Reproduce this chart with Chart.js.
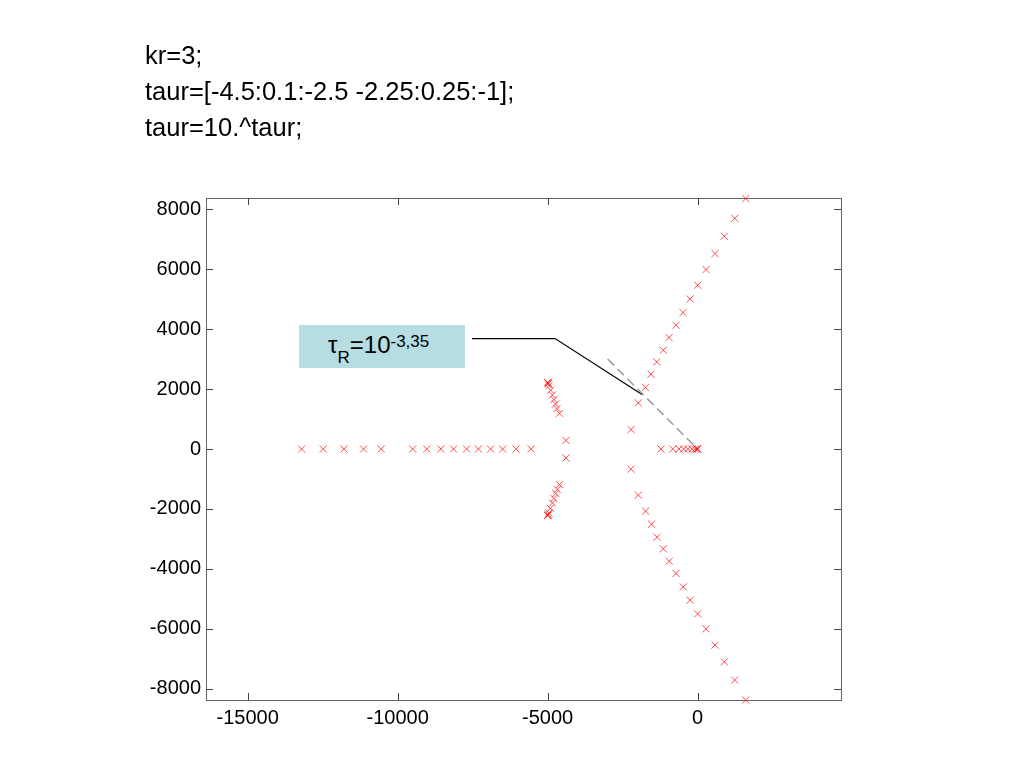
<!DOCTYPE html>
<html>
<head>
<meta charset="utf-8">
<script src="https://cdn.jsdelivr.net/npm/chart.js@4/dist/chart.umd.min.js"></script>
<style>
  body { margin: 0; background: #fff; width: 1024px; height: 768px; position: relative; overflow: hidden;
         font-family: "Liberation Sans", Arial, Helvetica, sans-serif; }
  canvas { position: absolute; left: 0; top: 0; }
  #code { position: absolute; left: 145px; top: 37px; font-size: 25.5px; line-height: 36px; color: #000; }
  #tag { position: absolute; left: 299px; top: 325px; width: 166px; height: 43px; background: #b6dde1; }
  #tagtext { position: absolute; left: 328px; top: 333px; font-size: 24px; line-height: 24px; color: #000; white-space: nowrap; }
  #tagtext .lo { font-size: 17px; position: relative; top: 10px; }
  #tagtext .hi { font-size: 17px; position: relative; top: -6px; }
</style>
</head>
<body>
<canvas id="locus" width="1024" height="768"></canvas>
<div id="code">kr=3;<br>taur=[-4.5:0.1:-2.5 -2.25:0.25:-1];<br>taur=10.^taur;</div>
<div id="tag"></div>
<div id="tagtext">τ<span class="lo">R</span>=10<span class="hi">-3,35</span></div>
<script>
// axes
const xTicks = [-15000, -10000, -5000, 0];
const yTicks = [-8000, -6000, -4000, -2000, 0, 2000, 4000, 6000, 8000];

// poles, one array per branch
const realLeft = [[-13200, 0], [-12480, 0], [-11790, 0], [-11140, 0], [-10550, 0], [-9500, 0], [-9030, 0],
  [-8560, 0], [-8140, 0], [-7700, 0], [-7310, 0], [-6900, 0], [-6500, 0], [-6050, 0], [-5550, 0]];
const realNearZero = [[-1220, 0], [-830, 0], [-620, 0], [-465, 0], [-330, 0], [-190, 0], [-80, 0],
  [-25, 0], [-10, 0], [0, 0]];
const midUpper = [[-4390, 285], [-4605, 1190], [-4690, 1350], [-4740, 1500], [-4790, 1650], [-4840, 1800],
  [-4900, 1960], [-4950, 2120], [-4975, 2180], [-4990, 2205], [-5000, 2220]];
const midLower = [[-4390, -300], [-4605, -1185], [-4680, -1350], [-4730, -1485], [-4790, -1650], [-4840, -1800],
  [-4910, -1980], [-4955, -2130], [-4980, -2185], [-4995, -2205], [-5000, -2220]];
const rightUpper = [[-2220, 650], [-1977, 1537], [-1743, 2050], [-1553, 2493], [-1363, 2903], [-1143, 3293],
  [-953, 3717], [-720, 4127], [-487, 4550], [-253, 5003], [3, 5460], [280, 5983], [580, 6517], [890, 7093],
  [1237, 7693], [1603, 8350]];
const rightLower = [[-2220, -673], [-1977, -1540], [-1735, -2073], [-1535, -2507], [-1355, -2940], [-1143, -3330],
  [-945, -3740], [-720, -4150], [-480, -4597], [-253, -5040], [3, -5497], [280, -5997], [580, -6540], [890, -7097],
  [1237, -7707], [1603, -8370]];

// annotation lines (data coords)
const dampLine = [[-3000, 3000], [0, 0]];
const calloutLine = [[-7520, 3683], [-4753, 3683], [-1853, 1817]];

const FONT = '"Liberation Sans", Arial, Helvetica, sans-serif';

const toPts = arr => arr.map(p => ({ x: p[0], y: p[1] }));

const poleSet = (label, arr) => ({
  label,
  data: toPts(arr),
  pointStyle: 'crossRot',
  pointRadius: 5,
  pointBorderWidth: 1,
  pointBorderColor: 'rgba(255,0,0,0.7)',
  pointBackgroundColor: 'rgba(255,0,0,0.7)',
  showLine: false,
  clip: false
});

// MATLAB-ish box with inward ticks on every side
const frame = {
  id: 'frame',
  afterDraw(chart) {
    const { ctx, chartArea: a, scales: { x, y } } = chart;
    ctx.save();
    ctx.strokeStyle = '#666';
    ctx.lineWidth = 1;
    ctx.strokeRect(a.left + 0.5, a.top + 0.5, a.right - a.left, a.bottom - a.top);
    ctx.strokeStyle = '#444';
    ctx.beginPath();
    xTicks.forEach(v => {
      const px = Math.round(x.getPixelForValue(v)) + 0.5;
      ctx.moveTo(px, a.bottom); ctx.lineTo(px, a.bottom - 7);
      ctx.moveTo(px, a.top); ctx.lineTo(px, a.top + 7);
    });
    yTicks.forEach(v => {
      const py = Math.round(y.getPixelForValue(v)) + 0.5;
      ctx.moveTo(a.left, py); ctx.lineTo(a.left + 7, py);
      ctx.moveTo(a.right, py); ctx.lineTo(a.right - 7, py);
    });
    ctx.stroke();
    ctx.restore();
  }
};

new Chart(document.getElementById('locus'), {
  type: 'scatter',
  data: {
    datasets: [
      poleSet('real left', realLeft),
      poleSet('real near zero', realNearZero),
      poleSet('mid upper', midUpper),
      poleSet('mid lower', midLower),
      poleSet('right upper', rightUpper),
      poleSet('right lower', rightLower),
      {
        label: 'damping',
        data: toPts(dampLine),
        showLine: true,
        borderColor: '#999',
        borderWidth: 1.5,
        borderDash: [9, 5],
        pointRadius: 0,
        clip: false
      },
      {
        label: 'callout',
        data: toPts(calloutLine),
        showLine: true,
        borderColor: '#000',
        borderWidth: 1.2,
        pointRadius: 0,
        clip: false
      }
    ]
  },
  options: {
    responsive: false,
    animation: false,
    layout: { autoPadding: false, padding: { left: 146, right: 183, top: 198, bottom: 28 } },
    plugins: { legend: { display: false }, tooltip: { enabled: false } },
    scales: {
      x: {
        type: 'linear',
        min: -16390,
        max: 4780,
        afterBuildTicks: s => { s.ticks = xTicks.map(v => ({ value: v })); },
        afterFit: s => { s.height = 40; },
        grid: { display: false, drawTicks: false },
        border: { display: false },
        ticks: { color: '#000', font: { family: FONT, size: 20 }, padding: 6, maxRotation: 0, autoSkip: false,
                 callback: v => String(v) }
      },
      y: {
        type: 'linear',
        min: -8370,
        max: 8370,
        afterBuildTicks: s => { s.ticks = yTicks.map(v => ({ value: v })); },
        afterFit: s => { s.width = 60; },
        grid: { display: false, drawTicks: false },
        border: { display: false },
        ticks: { color: '#000', font: { family: FONT, size: 20 }, padding: 5, autoSkip: false,
                 callback: v => String(v) }
      }
    }
  },
  plugins: [frame]
});
</script>
</body>
</html>
